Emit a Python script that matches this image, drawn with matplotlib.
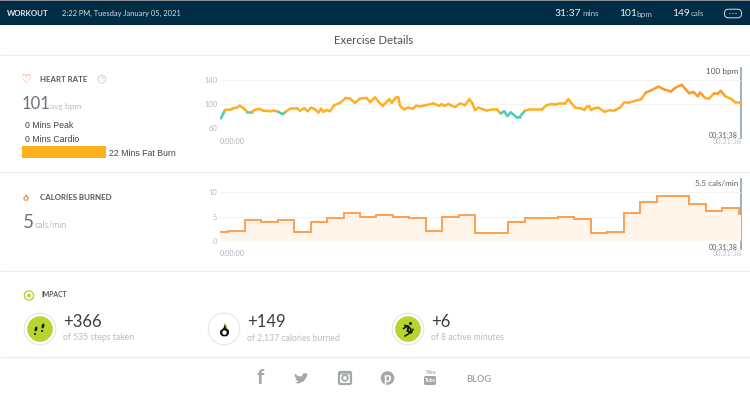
import numpy as np
import matplotlib
matplotlib.use("Agg")
import matplotlib.pyplot as plt
from matplotlib.patches import Rectangle, Circle, Ellipse, FancyBboxPatch, Polygon
from matplotlib.collections import LineCollection
from matplotlib.colors import ListedColormap, BoundaryNorm

plt.rcParams['font.family'] = ['Lato', 'DejaVu Sans']

# ---- data ----
hr_minutes = [0.06,.20,.30,.67,.81,1.01,1.21,1.42,1.66,1.92,2.09,2.37,2.63,3.04,3.30,3.54,3.81,3.99,4.25,4.45,4.66,4.86,
              5.12,5.32,5.53,5.77,5.97,6.13,6.28,6.48,6.68,6.94,7.29,7.63,7.89,8.20,8.50,8.91,9.11,9.41,9.62,9.88,10.28,10.43,
              10.68,10.83,10.93,11.17,11.43,11.70,11.90,12.14,12.34,12.95,13.32,13.46,13.62,13.86,14.07,14.27,14.57,14.87,
              15.14,15.32,15.48,15.68,16.19,16.49,16.80,17.04,17.24,17.45,17.65,17.97,18.21,18.52,18.82,19.53,19.83,20.14,
              20.34,20.64,20.95,21.15,21.35,21.56,21.96,22.12,22.27,22.41,22.53,22.73,22.97,23.34,23.68,23.99,24.29,24.55,
              24.80,25.30,25.57,25.85,26.11,26.62,26.98,27.39,27.63,28.03,28.48,28.74,29.01,29.15,29.45,29.70,30.0,30.2,30.4,
              30.67,30.91,31.07,31.27,31.58,31.63]
hr_bpm = [76,84,90,91,93,94,97,93,87,87,90,92,89,88,89,87,83,87,92,93,93,89,
          93,88,94,91,86,92,87,90,88,98,102,110,109,102,109,110,103,111,104,97,108,102,
          111,111,97,91,94,92,97,96,97,101,97,100,97,100,97,95,101,98,
          108,101,90,94,89,91,91,84,88,80,86,79,79,89,91,91,98,100,
          99,101,101,108,101,94,92,90,96,96,90,93,94,87,90,90,94,103,
          102,106,108,119,122,129,124,121,127,132,118,120,113,119,110,109,118,117,122,
          113,110,108,103,103,99]
hr_ticks = [60, 100, 140]
zone_edges = [0, 87.5, 114, 200]
zone_colors = ['#4fc8bd', '#ffb020', '#ff9a2a']

cal_edges = [0,.5,1.5,2.5,3.5,4.5,5.5,6.5,7.5,8.5,9.5,10.5,11.5,12.5,13.5,14.5,15.5,16.5,17.5,18.5,19.5,20.5,21.5,22.5,
             23.5,24.5,25.5,26.5,27.5,28.5,29.5,30.5,31.5,31.63]
cal_values = [1.85,2.1,4.2,3.9,4.2,1.8,3.9,4.7,5.8,4.9,5.3,5.0,4.7,2.1,5.0,5.3,1.7,1.7,3.9,4.7,4.7,5.0,4.5,1.7,
              1.85,5.8,8.0,9.2,9.2,7.5,6.2,6.7,5.6]
cal_ticks = [0, 5, 10]
fat_burn_mins = [22]
T_END = 31.63

W, H = 750, 396
fig = plt.figure(figsize=(W/100, H/100), dpi=100, facecolor='white')

def px_axes(x0, y0, x1, y1, **kw):
    return fig.add_axes([x0/W, 1-y1/H, (x1-x0)/W, (y1-y0)/H], **kw)

ov = px_axes(0, 0, W, H)
ov.set_xlim(0, W); ov.set_ylim(H, 0); ov.axis('off')

def T(x, y, s, size, color='#444444', ha='left', va='center', **kw):
    return ov.text(x, y, s, fontsize=size, color=color, ha=ha, va=va, **kw)

# ---- header ----
ov.add_patch(Rectangle((0, 0), W, 1.2, fc='#8a8f93', ec='none'))
ov.add_patch(Rectangle((0, 1.2), W, 24, fc='#002d45', ec='none'))
T(6.5, 13.5, 'WORKOUT', 5.7, '#e6ecef', weight='bold')
T(62, 13.5, '2:22 PM, Tuesday January 05, 2021', 5.4, '#d5dde2')
T(554.5, 13.5, '31:37', 7.4, '#eef2f4')
T(582, 14, 'mins', 5.8, '#c2ccd2')
T(619, 13.5, '101', 7.4, '#eef2f4')
T(636, 14, 'bpm', 5.8, '#c2ccd2')
T(672, 13.5, '149', 7.4, '#eef2f4')
T(691, 14, 'cals', 5.8, '#c2ccd2')
ov.add_patch(FancyBboxPatch((724.5, 9.2), 17, 8.6, boxstyle='round,pad=0,rounding_size=4', fc='#002d45', ec='#d5dde2', lw=0.7))
for cx in (730, 733, 736):
    ov.add_patch(Circle((cx, 13.5), 0.55, fc='#e6ecef', ec='none'))

T(374, 40, 'Exercise Details', 8.2, '#4a5058', ha='center')
for y in (54.5, 172, 270.5, 357):
    ov.plot([0, W], [y, y], color='#ebedf0', lw=0.9, solid_capstyle='butt')

# ---- heart rate left ----
T(26, 79.5, '♡', 8.5, '#f2775e', ha='center', family=['DejaVu Sans'], weight='bold')
T(40, 79.5, 'HEART RATE', 5.7, '#555a60', weight='bold')
ov.add_patch(Circle((102, 79.3), 3.8, fc='none', ec='#c9c9c9', lw=0.6))
T(102, 79.5, '?', 4.5, '#b5b5b5', ha='center')
T(22, 104, '101', 12, '#6d7278')
T(50.5, 107, 'avg bpm', 6, '#bbbcc0')
T(25, 125, '0 Mins Peak', 6.3, '#444444', family=['Liberation Sans'])
T(25, 139, '0 Mins Cardio', 6.3, '#444444', family=['Liberation Sans'])
T(109, 153, '22 Mins Fat Burn', 6.3, '#444444', family=['Liberation Sans'])

ax_bar = px_axes(22, 146, 106, 157.5)
ax_bar.barh([0], fat_burn_mins, height=1, color='#ffb01f')
ax_bar.set_xlim(0, fat_burn_mins[0]); ax_bar.set_ylim(-.5, .5); ax_bar.axis('off')

# ---- heart rate chart ----
ax = px_axes(220, 80, 741, 128)
ax.patch.set_alpha(0)
ax.set_xlim(0, T_END); ax.set_ylim(60, 140)
t = np.array(hr_minutes); b = np.array(hr_bpm)
pts = np.column_stack([t, b]).reshape(-1, 1, 2)
segs = np.concatenate([pts[:-1], pts[1:]], axis=1)
lc = LineCollection(segs, cmap=ListedColormap(zone_colors), norm=BoundaryNorm(zone_edges, 3), lw=1.8, capstyle='round', joinstyle='round')
lc.set_array((b[:-1] + b[1:]) / 2)
ax.add_collection(lc)
ax.set_yticks(hr_ticks); ax.set_xticks([])
ax.grid(axis='y', color='#f3f3f4', lw=0.8); ax.set_axisbelow(True)
ax.tick_params(axis='y', length=0, pad=2, labelsize=5.4, labelcolor='#b9b9bd')
for s in ax.spines.values(): s.set_visible(False)

ov.plot([741, 741], [68, 137.5], color='#7f9bab', lw=1.1)
T(738, 71.5, '100 bpm', 5.9, '#555a60', ha='right')
T(738, 135, '00:31:38', 5.2, '#7d8288', ha='right', weight='bold')
T(741.5, 142, '00:31:38', 5.2, '#c2c2c4', ha='right')
T(220, 142, '0:00:00', 5.2, '#b4b0b4')

# ---- calories left ----
def flame(cx, cy, s, fc, inner='white'):
    pts_ = [(0,-1.25),(.35,-.55),(.85,-.1),(.85,.5),(.45,1.),(-.45,1.),(-.85,.5),(-.8,-.1),(-.45,-.3),(-.1,-.75)]
    ov.add_patch(Polygon([(cx+s*a, cy+s*b_) for a, b_ in pts_], closed=True, fc=fc, ec='none'))
    ov.add_patch(Circle((cx, cy+s*.3), s*.42, fc=inner, ec='none'))

flame(26, 197.5, 3.2, '#f58a5c')
T(40, 197.5, 'CALORIES BURNED', 5.7, '#555a60', weight='bold')
T(23, 222, '5', 13.5, '#6d7278')
T(35, 225, 'cals/min', 6.2, '#bbbcc0')

# ---- calories chart ----
ax2 = px_axes(220, 192.3, 741, 240.8)
ax2.patch.set_alpha(0)
ax2.set_xlim(0, T_END); ax2.set_ylim(0, 10)
ax2.stairs(cal_values, cal_edges, fill=True, color='#fff5ea', lw=0)
ax2.stairs(cal_values, cal_edges, color='#ff9f50', lw=1.4, baseline=None)
ax2.set_yticks(cal_ticks); ax2.set_xticks([])
ax2.grid(axis='y', color='#f3f3f4', lw=0.8); ax2.set_axisbelow(True)
ax2.tick_params(axis='y', length=0, pad=2, labelsize=5.4, labelcolor='#b9b9bd')
for s in ax2.spines.values(): s.set_visible(False)

ov.plot([741, 741], [179, 248.5], color='#7f9bab', lw=1.1)
T(738, 183, '5.5 cals/min', 5.8, '#555a60', ha='right')
T(738, 247, '00:31:38', 5.2, '#7d8288', ha='right', weight='bold')
T(741.5, 254, '00:31:38', 5.2, '#c2c2c4', ha='right')
T(220, 254, '0:00:00', 5.2, '#b4b0b4')

# ---- impact ----
GREEN = '#b6d52f'
ov.add_patch(Circle((29, 295.5), 4.6, fc='none', ec=GREEN, lw=1))
ov.add_patch(Circle((29, 295.5), 2, fc=GREEN, ec='none'))
T(41, 294.5, 'IMPACT', 4.9, '#555a60', weight='bold')

for cx, fill in ((40, GREEN), (224, 'white'), (408, GREEN)):
    ov.add_patch(Circle((cx, 329), 15.8, fc='white', ec='#e6e6e6', lw=0.8))
    ov.add_patch(Circle((cx, 329), 12.8, fc=fill, ec='none'))

# steps icon
for dx, dy, rot in ((-4, 1, 15), (3, -2, 15)):
    ov.add_patch(Ellipse((40+dx, 329+dy-1), 2.6, 5, angle=rot, fc='#111111', ec='none'))
    ov.add_patch(Ellipse((40+dx-1, 329+dy+4), 2, 2, fc='#111111', ec='none'))
# flame icon
ov.add_patch(Polygon([(224.5,322.5),(228,327),(224,328)], closed=True, fc=GREEN, ec='none'))
flame(224.5, 331, 5.3, '#111111')
# runner icon
ov.plot([405,408.5,407.5], [325.5,326.5,331], color='#111111', lw=1.3)
ov.plot([403.5,407.5,411,409,405], [328.5,326,329,333.5,336], color='#111111', lw=1.1)
ov.plot([407.5,411,413], [331,333,329.5], color='#111111', lw=1.1)
ov.add_patch(Circle((410.5, 323.5), 1.5, fc='#111111', ec='none'))

for x, big, small in ((64, '+366', 'of 535 steps taken'), (248, '+149', 'of 2,137 calories burned'), (432, '+6', 'of 8 active minutes')):
    T(x-1, 322, big, 12, '#3a3d42')
    T(x-1, 338, small, 6.2, '#bcbcc0')

# ---- social row ----
G = '#a3a7aa'
T(260, 378, 'f', 15, G, ha='center', weight='bold')
ov.add_patch(Polygon([(295,373.5),(298,376),(302,376.5),(303,373.5),(306,373),(307.5,374.5),(306.5,377),(304,381),(299,383.5),(295,383),(298.5,381.5),(295.5,379.5),(296.5,378.5),(294.8,376.5)],
                     closed=True, fc=G, ec='none'))
ov.add_patch(FancyBboxPatch((339, 372), 12, 12, boxstyle='round,pad=0,rounding_size=1.5', fc='none', ec=G, lw=1.6))
ov.add_patch(Circle((345, 378), 2.8, fc='none', ec=G, lw=1.3))
ov.add_patch(Rectangle((339, 371.5), 12, 3, fc=G, ec='none', alpha=.7))
ov.add_patch(Circle((387.5, 378), 6.8, fc=G, ec='none'))
T(387.5, 378, 'p', 9.5, 'white', ha='center', weight='bold')
T(430, 372.5, 'You', 4.3, G, ha='center', weight='bold')
ov.add_patch(FancyBboxPatch((424, 376), 12, 9, boxstyle='round,pad=0,rounding_size=1.6', fc=G, ec='none'))
T(430, 380.5, 'Tube', 3.6, 'white', ha='center', weight='bold')
T(466, 380, 'BLOG', 6.7, '#a3a7aa', weight='bold')

fig.savefig('out.png', dpi=100)
